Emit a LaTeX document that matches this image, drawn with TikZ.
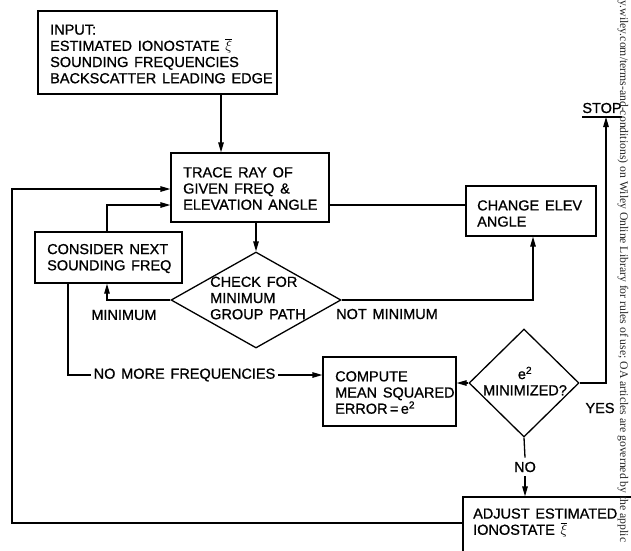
\documentclass[tikz,border=0pt]{standalone}
\usepackage{fontspec}
\setmainfont{Liberation Sans}[RawFeature={embolden=0.9}]
\newfontfamily\wmfont{Liberation Serif}
\usetikzlibrary{arrows.meta,shapes.geometric}
\begin{document}
\begin{tikzpicture}[x=1pt,y=-1pt,
  every node/.style={font={\fontsize{14.5}{16.2}\selectfont\spaceskip=0.4em\relax}},
  box/.style={draw,line width=1.3pt,rectangle,inner sep=0pt},
  boxtext/.style={inner sep=0pt,anchor=west,align=left},
  dia/.style={draw,line width=1.3pt,diamond,inner sep=0pt},
  lbl/.style={inner sep=0pt},
  wm/.style={inner sep=0pt,font=\wmfont\fontsize{11.7}{13}\selectfont,text=black!85},
  conn/.style={line width=1.3pt},
  arr/.style={conn,-{Triangle[length=10pt,width=5.5pt]}}]
\useasboundingbox (0,0) rectangle (631,550);
\fill[white] (0,0) rectangle (631,550);

% boxes
\node[box,minimum width=239pt,minimum height=83pt] (input) at (157.5,52.5) {};
\node[boxtext] (inputtext) at (50,54)
  {INPUT:\\ESTIMATED IONOSTATE $\overline{\xi}$\\SOUNDING FREQUENCIES\\BACKSCATTER LEADING EDGE};
\node[box,minimum width=158pt,minimum height=69pt] (trace) at (250,187.5) {};
\node[boxtext] (tracetext) at (183,188.5) {TRACE RAY OF\\GIVEN FREQ \&\\ELEVATION ANGLE};
\node[box,minimum width=147pt,minimum height=51pt] (consider) at (108.5,257.5) {};
\node[boxtext] (considertext) at (47,258.5) {CONSIDER NEXT\\SOUNDING FREQ};
\node[box,minimum width=130pt,minimum height=50pt] (change) at (531,211) {};
\node[boxtext] (changetext) at (477,213.5) {CHANGE ELEV\\ANGLE};
\node[box,minimum width=133pt,minimum height=69pt] (compute) at (389.5,391.5) {};
\node[boxtext] (computetext) at (335,392.5) {COMPUTE\\MEAN SQUARED\\ERROR\,=\,e\textsuperscript{2}};
\node[box,minimum width=182pt,minimum height=68pt] (adjust) at (554,531) {};
\node[boxtext] (adjtext) at (473,523) {ADJUST ESTIMATED\\IONOSTATE $\overline{\xi}$};

% diamonds
\node[dia,minimum width=170pt,minimum height=96pt] (d1) at (256,300) {};
\node[boxtext] (d1text) at (210,298) {CHECK FOR\\MINIMUM\\GROUP PATH};
\node[dia,minimum width=110pt,minimum height=108pt] (d2) at (524,383) {};
\node[lbl,align=center] (d2text) at (525,381) {e\textsuperscript{2}\\MINIMIZED?};

% labels
\node[lbl] (minl) at (124,315) {MINIMUM};
\node[lbl] (notmin) at (387,314) {NOT MINIMUM};
\node[lbl,inner xsep=2.5pt,anchor=west] (nomore) at (91,375) {NO MORE FREQUENCIES};
\node[lbl] (yes) at (600,408) {YES};
\node[lbl,inner ysep=4pt] (no) at (525,467) {NO};
\node[lbl] (stop) at (602,108) {STOP};
\coordinate (stopl) at (582,117);
\coordinate (stopr) at (622,117);
\coordinate (stopmid) at (606,117);
\coordinate (lc) at (12,189);

% connectors
\draw[arr] ([xshift=63.5pt]input.south) -- ([xshift=63.5pt]input.south |- trace.north);
\draw[arr] (trace.south -| d1.north) -- (d1.north);
\draw[arr] (d1.west) -| ([xshift=-1.5pt]consider.south);
\draw[arr] ([xshift=-1.5pt]consider.north) |- ([yshift=-17.5pt]trace.west);
\draw[conn] ([yshift=-17.5pt]trace.east) -- ([yshift=-17.5pt]trace.east -| change.west);
\draw[arr] (d1.east) -| ([xshift=2pt]change.south);
\draw[conn] ([xshift=-40.5pt]consider.south) |- (nomore.west);
\draw[arr] (nomore.east) -- (nomore.east -| compute.west);
\draw[arr] (d2.west) -- (d2.west -| compute.east);
\draw[arr] (d2.east) -| (stopmid);
\draw[conn] (stopl) -- (stopr);
\draw[conn] (d2.south) -- (no.north);
\draw[arr] (no.south) -- (no.south |- adjust.north);
\draw[arr] ([yshift=8pt]adjust.west) -| (lc) -- ([yshift=-1.5pt]trace.west);

% scan watermark
\node[wm,rotate=-90,anchor=west] (wmark) at (623,0.5)
  {y.wiley.com/terms-and-conditions) on Wiley Online Library for rules of use; OA articles are governed by the applic};
\end{tikzpicture}
\end{document}
